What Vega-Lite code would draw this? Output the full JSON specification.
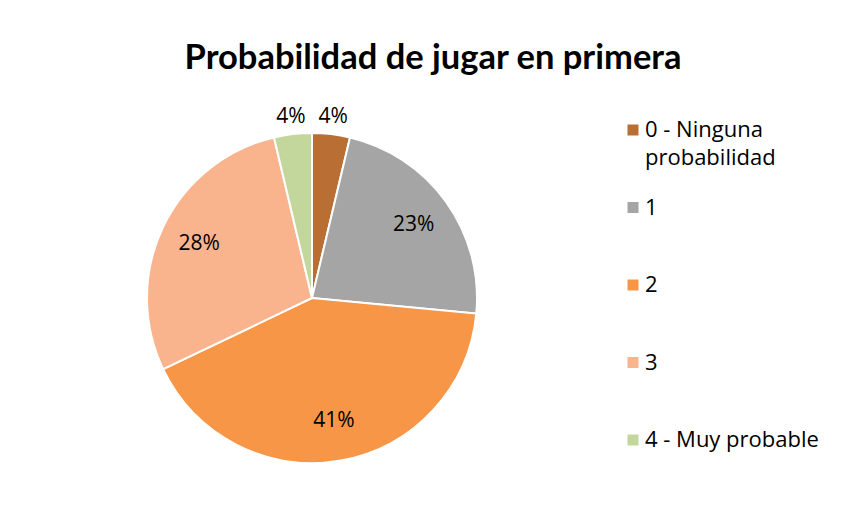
{
  "$schema": "https://vega.github.io/schema/vega-lite/v6.json",
  "width": 330,
  "height": 330,
  "padding": {"left": 143, "top": 40, "right": 5, "bottom": 5},
  "background": "white",
  "title": {
    "text": "Probabilidad de jugar en primera",
    "fontSize": 34.5,
    "font": "Lato",
    "fontWeight": "bold",
    "anchor": "middle",
    "dx": 121,
    "offset": 30,
    "color": "black"
  },
  "data": {
    "values": [
      {"categoria": "0 - Ninguna probabilidad", "orden": 0, "valor": 3.7, "etiqueta": "4%"},
      {"categoria": "1", "orden": 1, "valor": 22.8, "etiqueta": "23%"},
      {"categoria": "2", "orden": 2, "valor": 41.4, "etiqueta": "41%"},
      {"categoria": "3", "orden": 3, "valor": 28.4, "etiqueta": "28%"},
      {"categoria": "4 - Muy probable", "orden": 4, "valor": 3.7, "etiqueta": "4%"}
    ]
  },
  "encoding": {
    "theta": {"field": "valor", "type": "quantitative", "stack": true},
    "order": {"field": "orden", "type": "quantitative"},
    "color": {
      "field": "categoria",
      "type": "nominal",
      "sort": ["0 - Ninguna probabilidad", "1", "2", "3", "4 - Muy probable"],
      "scale": {
        "domain": ["0 - Ninguna probabilidad", "1", "2", "3", "4 - Muy probable"],
        "range": ["#B96E33", "#A5A5A5", "#F79646", "#F9B48E", "#C3D69B"]
      },
      "legend": {
        "title": null,
        "orient": "none",
        "legendX": 475,
        "legendY": -14,
        "padding": 0,
        "symbolType": "square",
        "symbolSize": 121,
        "symbolStrokeWidth": 0,
        "labelFont": "Open Sans",
        "labelFontSize": 22,
        "labelColor": "black",
        "labelOffset": 1,
        "labelLimit": 300,
        "rowPadding": 27.5,
        "labelExpr": "datum.label == '0 - Ninguna probabilidad' ? ['0 - Ninguna', 'probabilidad'] : [datum.label, '']"
      }
    }
  },
  "layer": [
    {"mark": {"type": "arc", "outerRadius": 165, "stroke": "white", "strokeWidth": 2}},
    {
      "mark": {"type": "text", "radius": 125, "fontSize": 21, "font": "Open Sans", "color": "black"},
      "encoding": {
        "text": {"condition": {"test": "datum.valor > 10", "field": "etiqueta"}, "value": ""},
        "color": {"value": "black"}
      }
    },
    {
      "mark": {"type": "text", "radius": 182, "fontSize": 21, "font": "Open Sans", "color": "black"},
      "encoding": {
        "text": {"condition": {"test": "datum.valor <= 10", "field": "etiqueta"}, "value": ""},
        "color": {"value": "black"}
      }
    }
  ],
  "config": {
    "view": {"stroke": null},
    "style": {"guide-label": {"lineHeight": 28}}
  }
}
